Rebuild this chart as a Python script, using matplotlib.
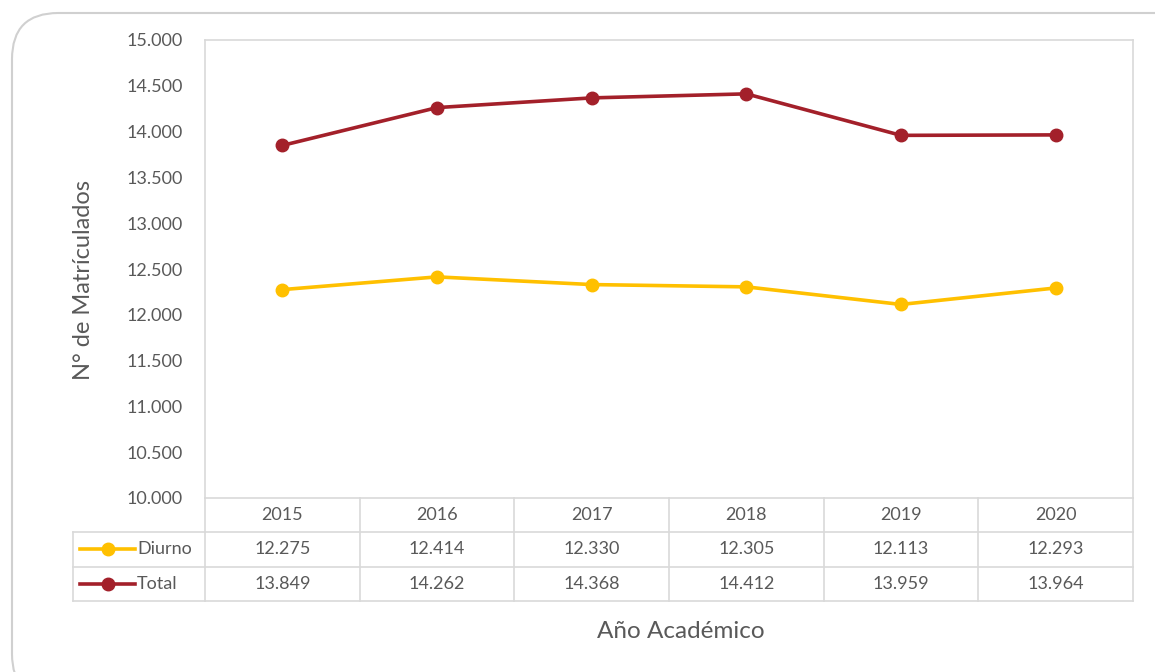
import matplotlib.pyplot as plt
from matplotlib.patches import FancyBboxPatch
from matplotlib.ticker import FuncFormatter

anios = ['2015', '2016', '2017', '2018', '2019', '2020']
diurno = [12275, 12414, 12330, 12305, 12113, 12293]
total = [13849, 14262, 14368, 14412, 13959, 13964]
series = [('Diurno', diurno, '#FFC000'), ('Total', total, '#A3202A')]

plt.rcParams['font.family'] = ['Lato', 'DejaVu Sans']
gris = '#595959'
borde = '#D9D9D9'
fs = 13

W, H = 1155, 672
fig = plt.figure(figsize=(W / 100, H / 100), dpi=100)

# marco redondeado de fondo
marco = FancyBboxPatch((12 / W, 1 - 700 / H), 1200 / W, 687 / H,
                       boxstyle='round,pad=0,rounding_size=0.04',
                       transform=fig.transFigure, facecolor='white',
                       edgecolor='#D0D0D0', linewidth=1.5, mutation_aspect=W / H,
                       zorder=-10)
fig.patches.append(marco)

x0, x1, yb, yt = 205, 1133, 498, 40
ax = fig.add_axes([x0 / W, 1 - yb / H, (x1 - x0) / W, (yb - yt) / H])
ax.set_zorder(5)
x = list(range(len(anios)))
for nombre, vals, color in series:
    ax.plot(x, vals, color=color, lw=2.6, marker='o', ms=9, zorder=3)

ax.set_xlim(-0.5, len(anios) - 0.5)
ax.set_ylim(10000, 15000)
ax.set_yticks(range(10000, 15001, 500))
ax.yaxis.set_major_formatter(FuncFormatter(lambda v, p: f'{int(v):,}'.replace(',', '.')))
ax.tick_params(axis='y', length=0, labelsize=fs, labelcolor=gris, pad=16)
ax.set_xticks([])
for s in ax.spines.values():
    s.set_color(borde)
    s.set_linewidth(1.2)
ax.set_ylabel('N° de Matrículados', fontsize=17, color=gris)
ax.yaxis.set_label_coords((94 - x0) / (x1 - x0), 0.475)

# tabla de datos debajo del gráfico
fila = 34.3 / (yb - yt)  # alto de fila en fracción de ejes
izq = (73 - x0) / (x1 - x0)
tr = ax.get_xaxis_transform()
kw = dict(transform=tr, clip_on=False, color=borde, lw=1.2)
for i in range(len(anios) + 1):
    ax.plot([i - 0.5, i - 0.5], [0, -3 * fila], **kw)
for k in range(1, 4):
    ax.plot([-0.5, len(anios) - 0.5], [-k * fila, -k * fila], **kw)
tra = ax.transAxes
for k in (1, 2, 3):
    ax.plot([izq, 0], [-k * fila, -k * fila], transform=tra, clip_on=False, color=borde, lw=1.2)
ax.plot([izq, izq], [-fila, -3 * fila], transform=tra, clip_on=False, color=borde, lw=1.2)

for i, a in enumerate(anios):
    ax.text(i, -0.5 * fila, a, transform=tr, ha='center', va='center', fontsize=fs, color=gris)
for r, (nombre, vals, color) in enumerate(series, start=1):
    yc = -(r + 0.5) * fila
    for i, v in enumerate(vals):
        ax.text(i, yc, f'{v:,}'.replace(',', '.'), transform=tr, ha='center', va='center',
                fontsize=fs, color=gris)
    kx0 = (80 - x0) / (x1 - x0)
    kx1 = (135 - x0) / (x1 - x0)
    ax.plot([kx0, kx1], [yc, yc], transform=tra, clip_on=False, color=color, lw=2.6)
    ax.plot([(kx0 + kx1) / 2], [yc], transform=tra, clip_on=False, color=color,
            marker='o', ms=9)
    ax.text((137 - x0) / (x1 - x0), yc, nombre, transform=tra, ha='left', va='center',
            fontsize=fs, color=gris)

fig.text(681 / W, 1 - 631 / H, 'Año Académico', ha='center', va='center',
         fontsize=17.5, color=gris)

fig.savefig('out.png', dpi=100)
